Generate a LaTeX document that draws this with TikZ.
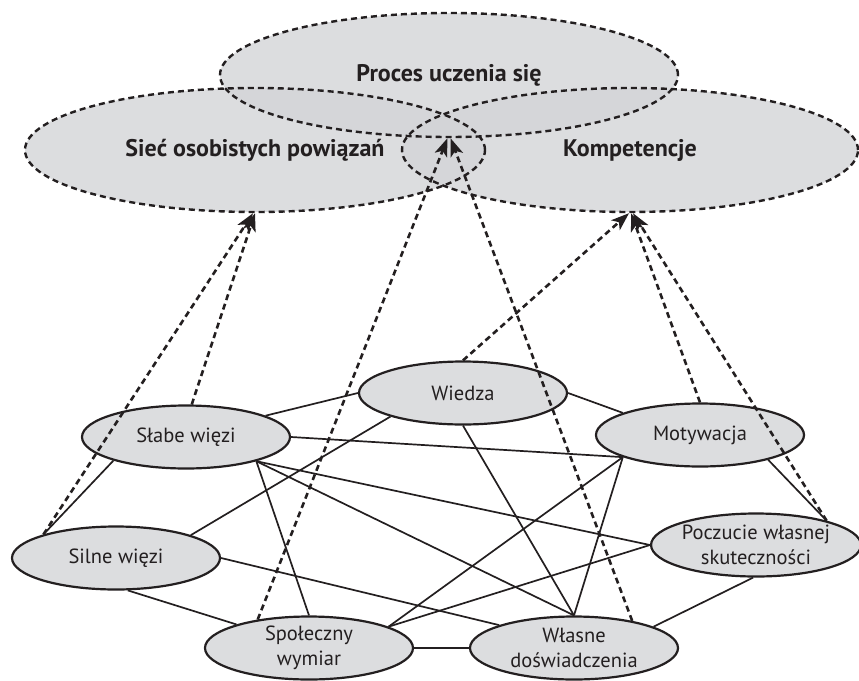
\documentclass[tikz,border=0pt]{standalone}
\usepackage{fontspec}
\setmainfont{PT Sans}
\usetikzlibrary{arrows.meta,shapes.geometric}
\definecolor{ink}{RGB}{35,31,32}
\definecolor{setgray}{RGB}{211,212,215}
\definecolor{nodegray}{RGB}{220,221,223}
\tikzset{
  setfill/.style={fill=setgray, fill opacity=0.8},
  bigset/.style={ellipse, draw=ink, line width=2.4pt, dash pattern=on 6pt off 4pt,
    inner sep=0pt, text=ink, font=\fontsize{24}{28}\selectfont\bfseries},
  factor/.style={ellipse, draw=ink, line width=2.2pt, fill=nodegray,
    minimum width=208pt, minimum height=63pt, inner sep=0pt, align=center,
    text=ink, font=\fontsize{20.5}{25}\selectfont},
  link/.style={draw=ink, line width=1.7pt},
  influence/.style={draw=ink, line width=2.6pt, dash pattern=on 6pt off 4pt,
    -{Stealth[length=18pt,width=13pt,inset=4.5pt]}},
}
\begin{document}
\begin{tikzpicture}[x=1pt,y=-1pt]
\useasboundingbox (0,0) rectangle (859,680);

% three overlapping outcome areas
\coordinate (cproc) at (449,75);
\coordinate (csie) at (255,150);
\coordinate (ckomp) at (630,150);
\fill[setfill] (cproc) ellipse [x radius=229pt, y radius=62pt];
\fill[setfill] (csie) ellipse [x radius=230pt, y radius=62pt];
\fill[setfill] (ckomp) ellipse [x radius=228pt, y radius=62pt];
\node[bigset, minimum width=458pt, minimum height=124pt] (proc) at (cproc) {Proces uczenia się};
\node[bigset, minimum width=460pt, minimum height=124pt] (sie) at (csie) {Sieć osobistych powiązań};
\node[bigset, minimum width=456pt, minimum height=124pt] (komp) at (ckomp) {Kompetencje};

% factors
\node[factor] (slabe) at (186,437) {Słabe więzi};
\node[factor] (silne) at (116,558) {Silne więzi};
\node[factor] (wiedza) at (463,393) {Wiedza};
\node[factor] (moty) at (700,435) {Motywacja};
\node[factor, minimum width=206pt] (pocz) at (756,545) {Poczucie własnej\\skuteczności};
\node[factor] (spol) at (309,648) {Społeczny\\wymiar};
\node[factor] (wlas) at (574,648) {Własne\\doświadczenia};

% links between factors
\draw[link] (slabe.15) -- (wiedza.west);
\draw[link] (slabe.east) -- (moty.196);
\draw[link] (slabe.-19) -- (pocz.west);
\draw[link] (slabe.-19) -- (wlas.north);
\draw[link] (slabe.-19) -- (spol.north);
\draw[link] (slabe.198) -- (silne.162);
\draw[link] (silne.17) -- (wiedza.198);
\draw[link] (silne.east) -- (wlas.163);
\draw[link] (silne.-70) -- (spol.162);
\draw[link] (spol.east) -- (wlas.west);
\draw[link] (spol.15) -- (moty.196);
\draw[link] (spol.15) -- (pocz.west);
\draw[link] (wiedza.east) -- (moty.164);
\draw[link] (wiedza.south) -- (wlas.north);
\draw[link] (moty.196) -- (wlas.north);
\draw[link] (moty.-20) -- (pocz.19);
\draw[link] (pocz.-95) -- (wlas.15);

% influences on the outcome areas
\draw[influence] (silne.162) -- ([xshift=-2pt]sie.south);
\draw[influence] (slabe.80) -- (sie.south);
\draw[influence] (spol.151) -- ([xshift=-1.5pt]proc.south);
\draw[influence] (wlas.25) -- ([xshift=1.5pt]proc.south);
\draw[influence] (wiedza.north) -- ([xshift=-1pt]komp.south);
\draw[influence] (moty.north) -- ([xshift=1pt]komp.south);
\draw[influence] (pocz.19) -- ([xshift=3pt]komp.south);
\end{tikzpicture}
\end{document}
